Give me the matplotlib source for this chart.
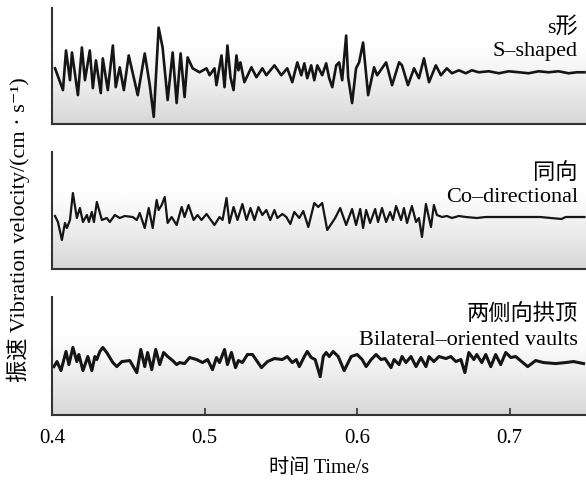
import numpy as np
import matplotlib
matplotlib.use("Agg")
import matplotlib.pyplot as plt

plt.rcParams['font.family'] = ['Liberation Serif', 'Noto Sans CJK SC', 'DejaVu Sans']

# s-shaped: time (s) and vibration velocity (cm/s)
t1 = [0.4020, 0.4072, 0.4092, 0.4118, 0.4131, 0.4170, 0.4196, 0.4216, 0.4248, 0.4268,
      0.4288, 0.4320, 0.4333, 0.4366, 0.4399, 0.4418, 0.4444, 0.4471, 0.4503, 0.4562,
      0.4608, 0.4641, 0.4667, 0.4699, 0.4725, 0.4758, 0.4791, 0.4817, 0.4843, 0.4869,
      0.4889, 0.4922, 0.4967, 0.5013, 0.5033, 0.5065, 0.5078, 0.5111, 0.5131, 0.5150,
      0.5170, 0.5190, 0.5209, 0.5222, 0.5235, 0.5261, 0.5307, 0.5340, 0.5379, 0.5405,
      0.5458, 0.5503, 0.5542, 0.5575, 0.5608, 0.5634, 0.5654, 0.5673, 0.5699, 0.5719,
      0.5739, 0.5771, 0.5797, 0.5817, 0.5837, 0.5863, 0.5882, 0.5902, 0.5928, 0.5941,
      0.5967, 0.5993, 0.6013, 0.6039, 0.6072, 0.6111, 0.6131, 0.6190, 0.6229, 0.6275,
      0.6294, 0.6333, 0.6373, 0.6405, 0.6438, 0.6471, 0.6516, 0.6549, 0.6588, 0.6621,
      0.6667, 0.6712, 0.6752, 0.6797, 0.6863, 0.6930, 0.6993, 0.7060, 0.7124, 0.7190,
      0.7255, 0.7320, 0.7386, 0.7440, 0.7490]
v1 = [0.4, -1.8, 2.2, -0.8, 2.0, -2.3, 2.5, -0.8, 2.2, -1.6,
      1.2, -2.1, 1.4, -1.8, 2.7, -1.5, 0.5, -1.8, 1.7, -2.3,
      1.9, -1.3, -4.5, 4.5, 2.5, -2.8, 2.0, -3.1, 1.9, -2.5,
      1.5, 0.4, 0.0, 0.4, -0.3, 0.4, -1.3, 1.7, -1.5, 2.7,
      -0.5, -1.8, 1.7, 0.2, 1.0, -1.0, 0.5, -0.5, 0.4, -0.3,
      0.7, -0.3, 0.4, -1.0, 1.0, -0.3, 0.9, -0.6, 0.7, -0.8,
      0.7, -0.3, 0.9, -0.6, -1.5, 0.7, 1.0, -0.8, 3.7, -0.5,
      -3.1, 0.4, 1.0, 3.0, -2.3, 0.5, -0.3, 1.0, -1.3, 1.0,
      0.7, -1.3, 0.4, -0.6, 1.4, -1.0, 0.7, -0.3, 0.4, -0.1,
      0.2, -0.1, 0.2, 0.0, 0.1, -0.1, 0.1, 0.0, -0.1, 0.1,
      0.0, 0.1, -0.1, 0.0, 0.0]

# co-directional
t2 = [0.4020, 0.4039, 0.4065, 0.4085, 0.4098, 0.4118, 0.4137, 0.4163, 0.4183, 0.4203,
      0.4229, 0.4242, 0.4261, 0.4275, 0.4294, 0.4327, 0.4359, 0.4379, 0.4412, 0.4444,
      0.4477, 0.4529, 0.4556, 0.4575, 0.4608, 0.4634, 0.4660, 0.4686, 0.4699, 0.4719,
      0.4739, 0.4758, 0.4784, 0.4817, 0.4850, 0.4869, 0.4895, 0.4928, 0.4954, 0.4980,
      0.5013, 0.5065, 0.5098, 0.5118, 0.5144, 0.5163, 0.5190, 0.5216, 0.5248, 0.5275,
      0.5301, 0.5327, 0.5353, 0.5379, 0.5405, 0.5431, 0.5458, 0.5477, 0.5510, 0.5536,
      0.5562, 0.5588, 0.5621, 0.5647, 0.5680, 0.5719, 0.5745, 0.5771, 0.5804, 0.5856,
      0.5889, 0.5928, 0.5967, 0.5993, 0.6020, 0.6039, 0.6059, 0.6085, 0.6118, 0.6137,
      0.6163, 0.6190, 0.6216, 0.6235, 0.6255, 0.6288, 0.6307, 0.6327, 0.6359, 0.6386,
      0.6405, 0.6425, 0.6451, 0.6471, 0.6484, 0.6503, 0.6523, 0.6556, 0.6588, 0.6621,
      0.6667, 0.6712, 0.6784, 0.6843, 0.7000, 0.7200, 0.7340, 0.7366, 0.7490]
v2 = [0.1, -0.5, -2.3, -0.6, -1.1, -0.3, 2.4, -0.1, 0.9, -0.5,
      0.2, -0.5, 0.5, -0.5, 1.5, -0.3, -0.1, -0.5, 0.2, -0.1,
      0.1, 0.0, -0.3, 0.4, -1.1, 0.9, -1.1, 1.7, 0.7, 1.2,
      2.0, -0.6, 0.0, -0.8, 1.0, 0.0, 1.2, -0.3, 0.2, -0.3,
      0.3, -0.8, 0.0, -0.3, 1.9, -0.6, 1.0, -0.3, 1.3, -0.3,
      0.9, -0.3, 1.0, 0.2, 0.7, -0.3, 0.7, -0.1, 0.3, 0.0,
      -0.7, 0.5, -0.1, 0.6, -1.0, 1.4, 1.0, 1.4, -1.3, -0.1,
      0.9, -0.8, 0.8, -0.8, 0.8, -1.1, 0.7, -0.6, 0.8, -0.5,
      0.9, -0.5, 0.5, -0.3, 1.1, -0.3, 0.9, -0.6, 1.1, -0.5,
      -0.1, -2.0, 1.3, -0.1, -1.0, 1.2, 0.2, 0.0, 0.1, -0.1,
      0.1, 0.0, -0.1, 0.0, 0.0, 0.0, -0.2, 0.0, 0.0]

# bilateral-oriented vaults
t3 = [0.4013, 0.4033, 0.4059, 0.4092, 0.4111, 0.4137, 0.4163, 0.4176, 0.4203, 0.4235,
      0.4261, 0.4281, 0.4294, 0.4314, 0.4333, 0.4359, 0.4399, 0.4425, 0.4458, 0.4510,
      0.4556, 0.4582, 0.4608, 0.4627, 0.4654, 0.4680, 0.4706, 0.4732, 0.4758, 0.4791,
      0.4817, 0.4837, 0.4869, 0.4902, 0.4948, 0.4987, 0.5020, 0.5052, 0.5078, 0.5098,
      0.5131, 0.5150, 0.5176, 0.5203, 0.5222, 0.5248, 0.5281, 0.5314, 0.5373, 0.5412,
      0.5458, 0.5510, 0.5542, 0.5575, 0.5601, 0.5621, 0.5654, 0.5673, 0.5699, 0.5725,
      0.5758, 0.5778, 0.5797, 0.5817, 0.5843, 0.5876, 0.5915, 0.5961, 0.6000, 0.6033,
      0.6059, 0.6092, 0.6124, 0.6157, 0.6183, 0.6222, 0.6242, 0.6275, 0.6294, 0.6320,
      0.6353, 0.6386, 0.6418, 0.6451, 0.6471, 0.6503, 0.6536, 0.6582, 0.6614, 0.6647,
      0.6680, 0.6706, 0.6732, 0.6765, 0.6784, 0.6817, 0.6843, 0.6876, 0.6908, 0.6941,
      0.6974, 0.7007, 0.7039, 0.7078, 0.7118, 0.7170, 0.7222, 0.7301, 0.7366, 0.7418,
      0.7484]
v3 = [-0.4, 0.1, -0.8, 1.1, -0.2, 1.5, 0.1, 0.8, -0.8, 0.6,
      -0.8, 0.6, 0.3, 1.1, 1.5, 1.0, 0.0, -0.4, 0.1, 0.2,
      -1.0, 1.3, -0.4, 1.0, -0.7, 1.3, -0.2, 1.0, 0.6, 0.2,
      -0.2, 0.0, -0.1, 0.5, 0.3, 0.0, 0.3, -0.7, 0.5, 0.0,
      1.3, -0.2, 1.0, -0.5, 0.2, 0.0, 0.8, 0.8, -0.5, 0.1,
      0.4, 0.3, 0.6, 0.0, 0.3, -0.4, 0.6, 1.1, 0.5, 0.3,
      -1.4, 0.6, 1.0, 0.6, 1.1, 0.6, -0.8, 0.6, 0.8, 0.3,
      -0.4, 0.3, 0.8, 0.3, 0.4, -0.5, 0.3, -0.2, 0.6, 0.0,
      0.6, -0.4, 0.5, -0.4, 0.6, 0.1, 0.6, 0.4, 0.6, 0.1,
      0.3, -1.0, 1.0, 0.3, 0.8, 0.0, 0.8, -0.4, 0.8, -0.2,
      1.0, 0.5, 0.6, 0.1, -0.4, 0.2, 0.0, -0.1, 0.0, 0.1,
      -0.1]

series = [(t1, v1, 1.9), (t2, v2, 1.6), (t3, v3, 2.2)]
labels_cn = ['s形', '同向', '两侧向拱顶']
labels_en = ['S–shaped', 'Co–directional', 'Bilateral–oriented vaults']
xticks = [0.4, 0.5, 0.6, 0.7]

fig = plt.figure(figsize=(5.86, 4.8), dpi=100)
boxes = [(0.742, 0.2417), (0.4396, 0.2437), (0.1354, 0.2458)]
cn_y = [0.83, 0.82, 0.85]
en_y = [0.62, 0.61, 0.635]

# background gradient: white at top, grey at bottom
g = np.linspace(0, 1, 256)
shade = 1.0 - 0.16 * np.clip((g - 0.3) / 0.7, 0, 1) ** 1.2
grad = shade[:, None] * np.ones((256, 2))

for i, ((t, v, lw), (y0, h)) in enumerate(zip(series, boxes)):
    ax = fig.add_axes([0.0887, y0, 0.9113, h])
    ax.imshow(grad, cmap='gray', vmin=0, vmax=1, aspect='auto',
              extent=[0, 1, 0, 1], transform=ax.transAxes, zorder=0)
    ax.plot(t, v, color='#151515', lw=lw, zorder=2, solid_joinstyle='round')
    ax.set_xlim(0.4, 0.75)
    ax.set_ylim(-5.2, 6.5)
    ax.spines['top'].set_visible(False)
    ax.spines['right'].set_visible(False)
    for s in ['left', 'bottom']:
        ax.spines[s].set_linewidth(1.5)
        ax.spines[s].set_color('#333333')
    ax.set_yticks([])
    ax.set_xticks(xticks)
    if i < 2:
        ax.tick_params(axis='x', length=0, labelbottom=False)
    else:
        ax.tick_params(axis='x', direction='in', length=5, width=1.2,
                       color='#333333', labelsize=15, pad=10)
        ax.set_xticklabels([f'{x:.1f}' for x in xticks])
        ax.set_xlabel('时间 Time/s', fontsize=14.5, labelpad=8)
    ax.text(0.985, cn_y[i], labels_cn[i], transform=ax.transAxes, ha='right',
            va='center', fontsize=16)
    ax.text(0.985, en_y[i], labels_en[i], transform=ax.transAxes, ha='right',
            va='center', fontsize=16)

fig.text(0.031, 0.521, '振速 Vibration velocity/(cm · s⁻¹)', rotation=90,
         ha='center', va='center', fontsize=16)

fig.savefig('out.png', dpi=100)
